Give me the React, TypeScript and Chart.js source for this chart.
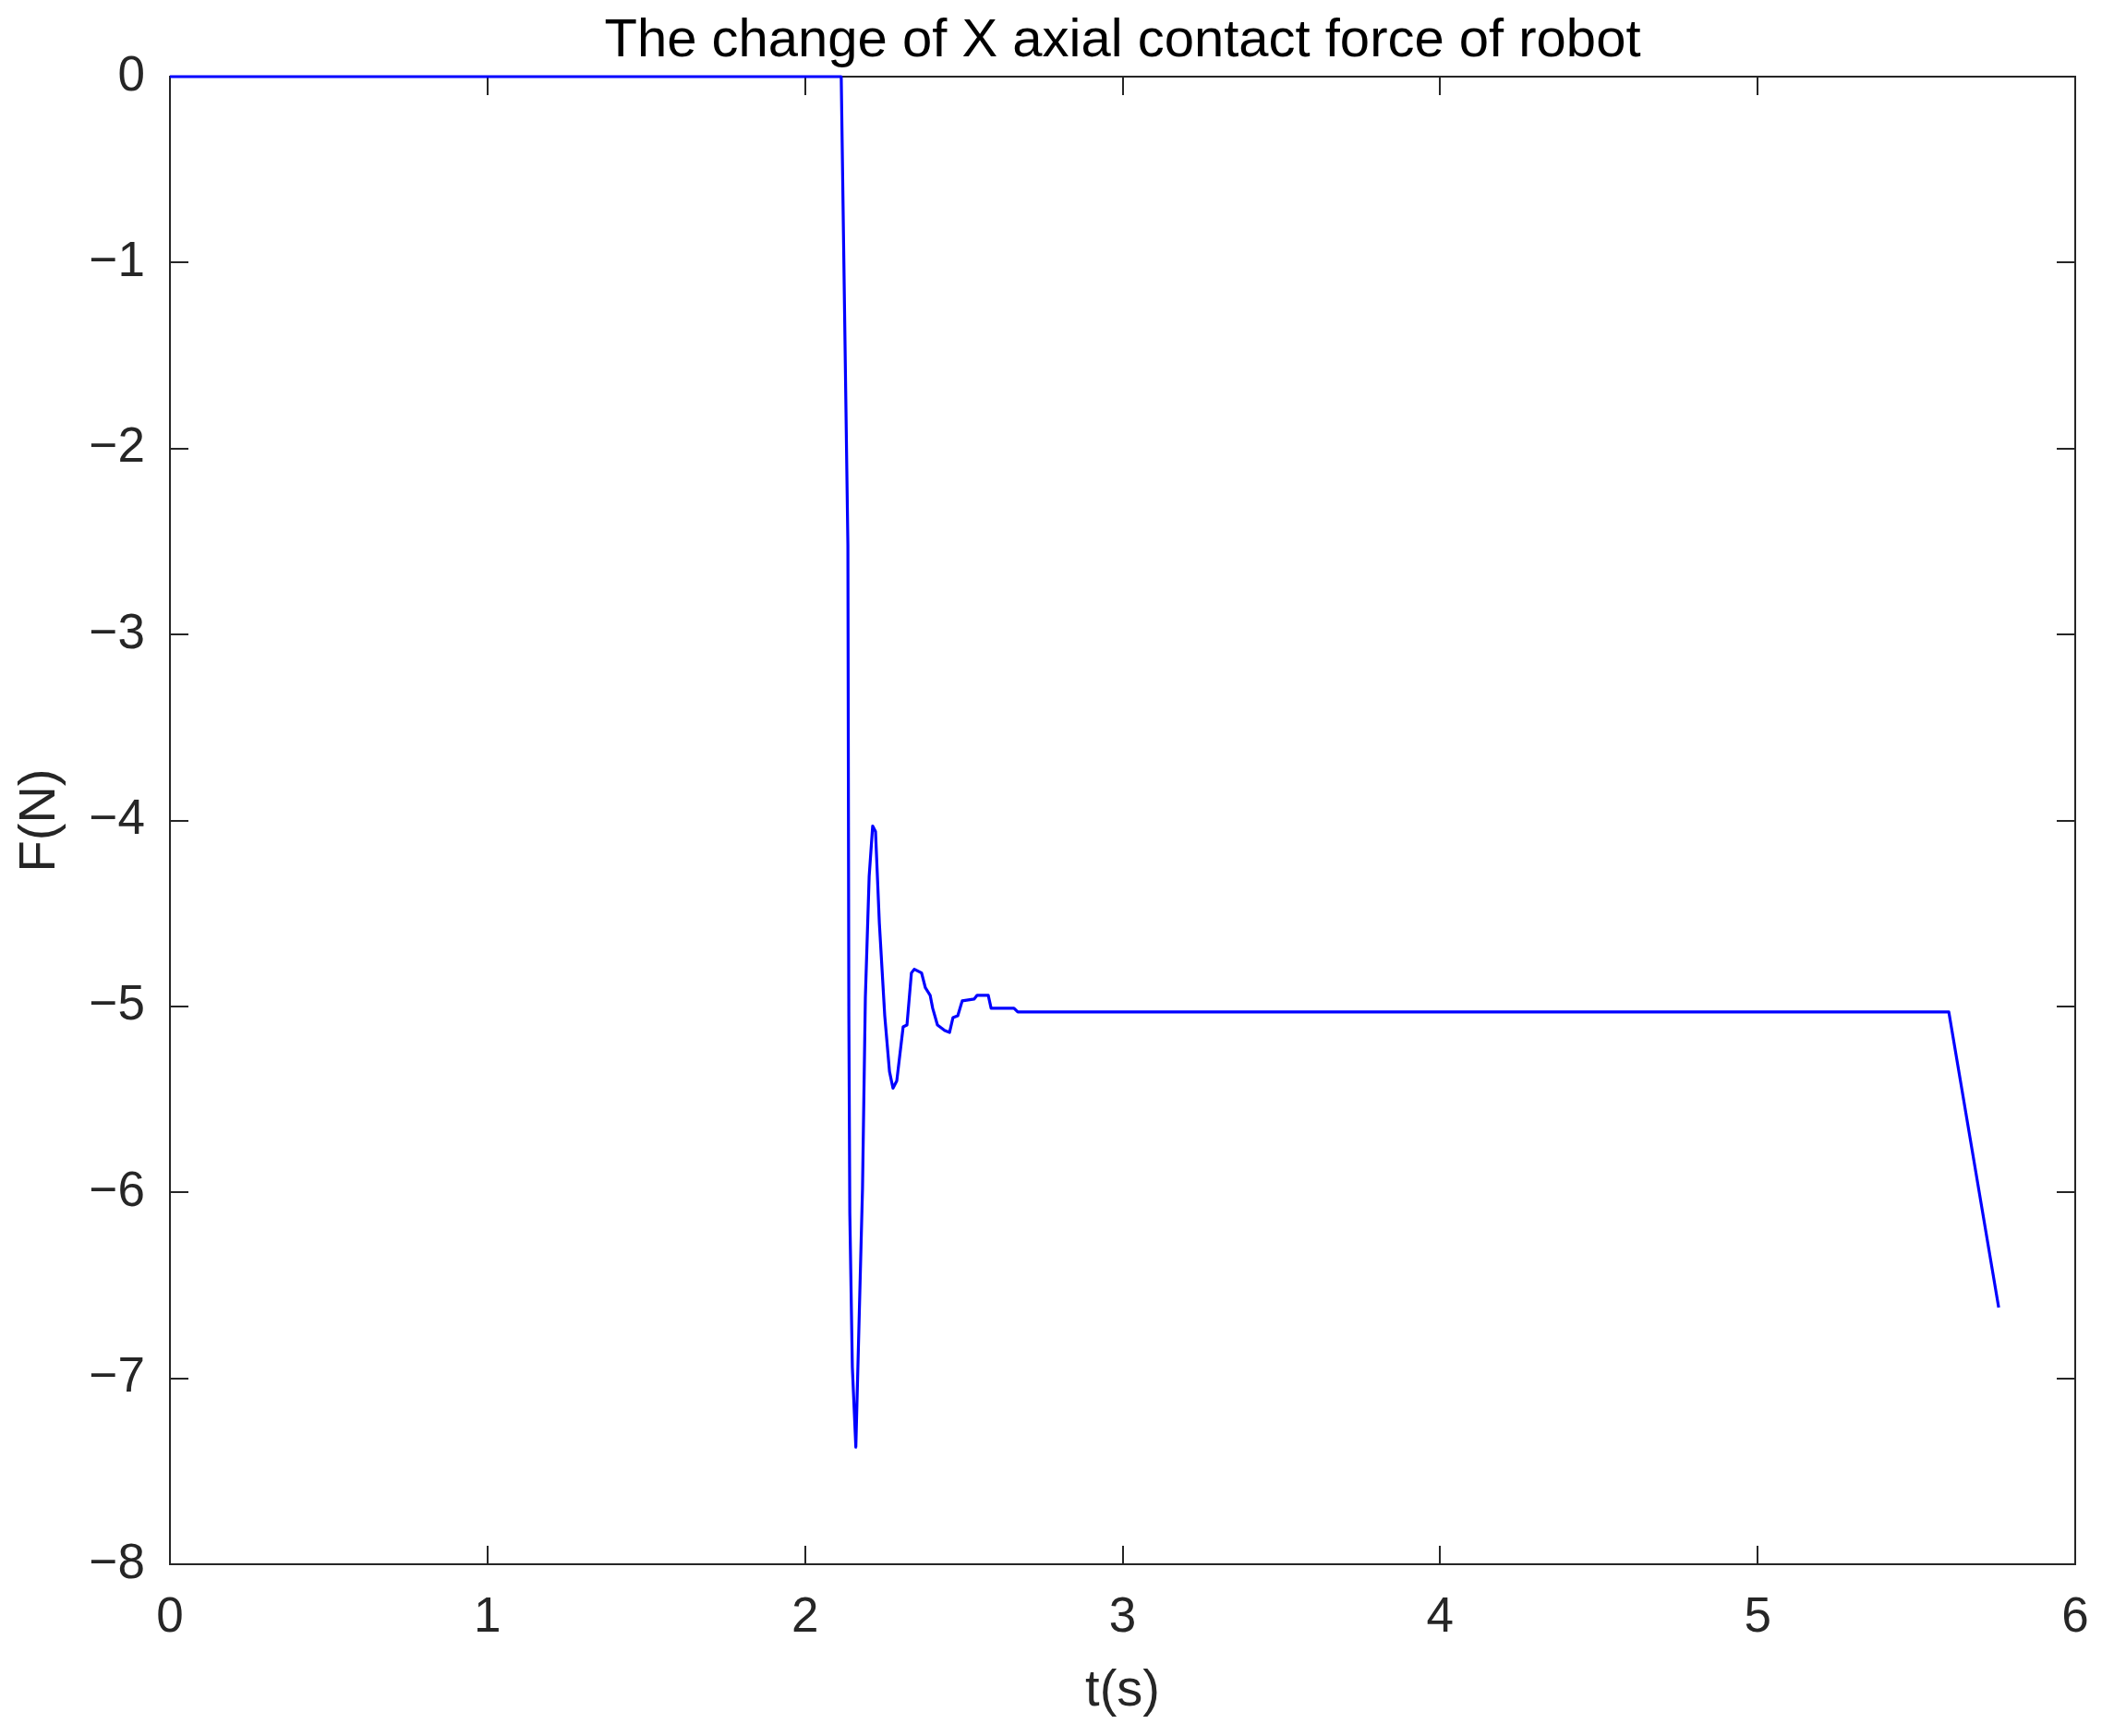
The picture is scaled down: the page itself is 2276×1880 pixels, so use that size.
import React, { useEffect, useRef } from 'react';
import { Chart, registerables } from 'chart.js';

Chart.register(...registerables);

// Time axis (s)
const timeValues = [
  0, 2.114, 2.135, 2.138, 2.141, 2.149, 2.160, 2.181, 2.190, 2.202, 2.213, 2.222,
  2.234, 2.251, 2.266, 2.277, 2.289, 2.309, 2.321, 2.335, 2.344, 2.367, 2.379,
  2.394, 2.402, 2.417, 2.440, 2.455, 2.466, 2.481, 2.495, 2.533, 2.542, 2.577,
  2.586, 2.658, 2.670, 5.602, 5.759,
];
// X axial contact force (N)
const forceValues = [
  0, 0, -2.52, -5.05, -6.11, -6.94, -7.37, -5.98, -4.95, -4.30, -4.03, -4.06,
  -4.55, -5.05, -5.35, -5.44, -5.40, -5.11, -5.10, -4.82, -4.80, -4.82, -4.90,
  -4.94, -5.01, -5.10, -5.13, -5.14, -5.06, -5.05, -4.97, -4.96, -4.94, -4.94,
  -5.01, -5.01, -5.03, -5.03, -6.62,
];

const xTickValues = [0, 1, 2, 3, 4, 5, 6];
const yTickValues = [-8, -7, -6, -5, -4, -3, -2, -1, 0];

const chartTitle = 'The change of X axial contact force of robot';
const xAxisTitle = 't(s)';
const yAxisTitle = 'F(N)';

const FONT = '"Liberation Sans", Arial, Helvetica, sans-serif';
const AXIS_COLOR = '#262626';

const boxPlugin = {
  id: 'matlabBox',
  beforeDatasetsDraw(chart: any) {
    const { ctx, chartArea } = chart;
    const { left, right, top, bottom } = chartArea;
    const xs = chart.scales.x;
    const ys = chart.scales.y;
    const L = 20;
    ctx.save();
    ctx.strokeStyle = AXIS_COLOR;
    ctx.lineWidth = 2;
    ctx.beginPath();
    xTickValues.forEach((v) => {
      const px = Math.round(xs.getPixelForValue(v));
      ctx.moveTo(px, bottom);
      ctx.lineTo(px, bottom - L);
      ctx.moveTo(px, top);
      ctx.lineTo(px, top + L);
    });
    yTickValues.forEach((v) => {
      const py = Math.round(ys.getPixelForValue(v));
      ctx.moveTo(left, py);
      ctx.lineTo(left + L, py);
      ctx.moveTo(right, py);
      ctx.lineTo(right - L, py);
    });
    ctx.stroke();
    ctx.strokeRect(left, top, right - left, bottom - top);
    ctx.fillStyle = '#000000';
    ctx.font = `58px ${FONT}`;
    ctx.textAlign = 'center';
    ctx.textBaseline = 'alphabetic';
    ctx.fillText(chartTitle, (left + right) / 2, 61);
    ctx.restore();
  },
};

export default function App() {
  const canvasRef = useRef<HTMLCanvasElement | null>(null);

  useEffect(() => {
    document.body.style.margin = '0';
    const canvas = canvasRef.current;
    if (!canvas) return;
    const points = timeValues.map((t, i) => ({ x: t, y: forceValues[i] }));
    const chart = new Chart(canvas, {
      type: 'scatter',
      data: {
        datasets: [
          {
            data: points,
            showLine: true,
            borderColor: '#0000FF',
            backgroundColor: '#0000FF',
            borderWidth: 3.2,
            pointRadius: 0,
            tension: 0,
            borderJoinStyle: 'round',
            clip: 6,
          } as any,
        ],
      },
      options: {
        animation: false,
        responsive: false,
        devicePixelRatio: 1,
        layout: { padding: { top: 83, right: 29, bottom: 0, left: 0 } },
        plugins: {
          legend: { display: false },
          tooltip: { enabled: false },
          title: { display: false },
        },
        scales: {
          x: {
            type: 'linear',
            min: 0,
            max: 6,
            afterBuildTicks: (s: any) => {
              s.ticks = xTickValues.map((v) => ({ value: v }));
            },
            ticks: {
              padding: 27,
              color: AXIS_COLOR,
              font: { size: 53, family: FONT },
              maxRotation: 0,
              autoSkip: false,
            },
            grid: { display: false, drawTicks: false },
            border: { display: false },
            title: {
              display: true,
              text: xAxisTitle,
              color: AXIS_COLOR,
              font: { size: 56, family: FONT },
              padding: { top: 0, bottom: 15 },
            },
            afterFit: (s: any) => {
              s.height = 186;
              s.paddingLeft = 0;
              s.paddingRight = 0;
            },
          },
          y: {
            type: 'linear',
            min: -8,
            max: 0,
            afterBuildTicks: (s: any) => {
              s.ticks = yTickValues.map((v) => ({ value: v }));
            },
            ticks: {
              padding: 27,
              color: AXIS_COLOR,
              font: { size: 53, family: FONT },
              autoSkip: false,
              callback: (v: any) => String(v).replace('-', '\u2212'),
            },
            grid: { display: false, drawTicks: false },
            border: { display: false },
            title: {
              display: true,
              text: yAxisTitle,
              color: AXIS_COLOR,
              font: { size: 56, family: FONT },
              padding: { top: 10, bottom: 0 },
            },
            afterFit: (s: any) => {
              s.width = 184;
              s.paddingTop = 0;
              s.paddingBottom = 0;
            },
          },
        },
      },
      plugins: [boxPlugin],
    });
    return () => chart.destroy();
  }, []);

  return (
    <div style={{ width: 2276, height: 1880, background: '#ffffff' }}>
      <canvas ref={canvasRef} width={2276} height={1880} style={{ display: 'block' }} />
    </div>
  );
}
